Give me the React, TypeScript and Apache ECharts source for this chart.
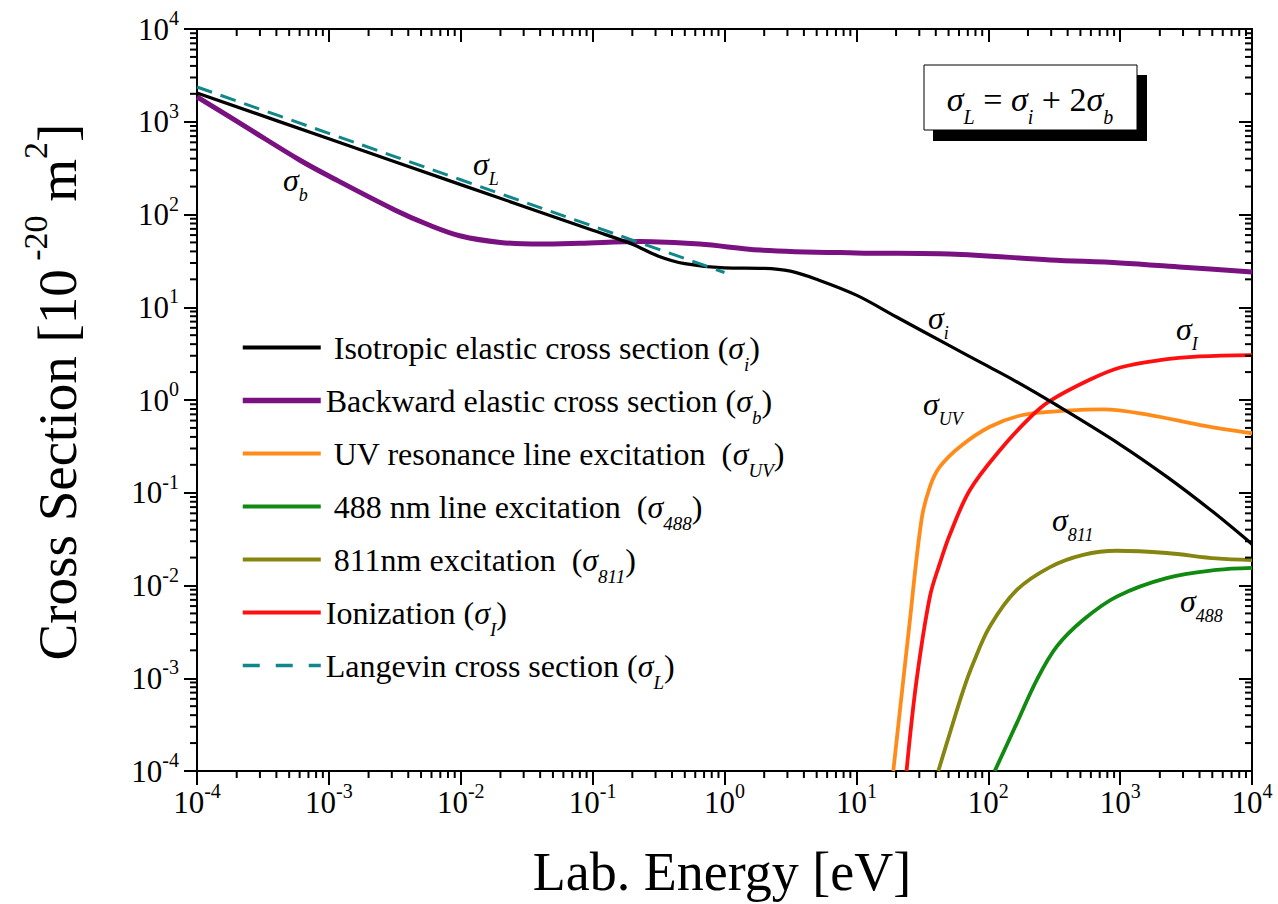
import React, { useEffect, useRef } from "react";
import * as echarts from "echarts";

const SERIF = '"Liberation Serif", "Times New Roman", Times, serif';

// ---- data (energy in eV, cross section in 1e-20 m^2) ----
const isoE = [1e-4, 1e-3, 1e-2, 0.1, 0.2, 0.316, 0.5, 1, 2, 3.16, 5, 10, 20, 50, 100, 158, 316, 1000, 2240, 5000, 10000];
const isoS = [2042, 655, 210, 67.6, 47.9, 35.5, 29.5, 26.6, 26.3, 24.5, 20, 13.5, 7.9, 3.9, 2.3, 1.62, 0.912, 0.331, 0.15, 0.063, 0.0279];

const backE = [1e-4, 2.5e-4, 6e-4, 1e-3, 3.16e-3, 5.75e-3, 1e-2, 2e-2, 4e-2, 8e-2, 0.23, 0.65, 1.86, 10, 51, 295, 1000, 3000, 10000];
const backS = [1860, 832, 387, 260, 112, 77, 58.6, 50, 48, 49, 51.3, 48, 41.4, 38.5, 37.5, 32.4, 30, 27, 24];

const uvE = [19.05, 25.1, 31.2, 36.1, 43.0, 61, 103, 183, 394, 741, 1690, 4050, 10000];
const uvS = [1e-4, 3.5e-3, 0.0513, 0.116, 0.191, 0.314, 0.515, 0.689, 0.767, 0.794, 0.689, 0.537, 0.438];

const e488E = [112, 164, 233, 330, 526, 942, 2250, 5410, 10000];
const e488S = [1e-4, 3.24e-4, 9.55e-4, 2.19e-3, 4.27e-3, 7.59e-3, 0.012, 0.0147, 0.0155];

const e811E = [41.8, 51.2, 64.6, 76.9, 103, 164, 294, 525, 942, 2250, 5370, 10000];
const e811S = [1e-4, 2.57e-4, 7.41e-4, 1.45e-3, 3.63e-3, 8.9e-3, 0.0158, 0.0214, 0.0237, 0.0224, 0.0196, 0.0188];

const ionE = [24.0, 28.6, 36.1, 43.0, 51.2, 72.6, 123, 207, 294, 592, 1000, 2000, 4000, 10000];
const ionS = [1e-4, 9.5e-4, 7.6e-3, 0.0174, 0.0355, 0.107, 0.289, 0.646, 0.977, 1.66, 2.24, 2.69, 2.95, 3.05];

const langE = [1e-4, 1e-3, 1e-2, 0.1, 1];
const langS = [2370, 750, 237, 75, 23.7];

// axis tick structure
const decadeStarts = [1e-4, 1e-3, 1e-2, 1e-1, 1, 10, 100, 1000];
const minorMantissas = [2, 3, 4, 5, 6, 7, 8, 9];

const NAMES = {
  iso: "Isotropic elastic cross section",
  back: "Backward elastic cross section",
  uv: "UV resonance line excitation",
  e488: "488 nm line excitation",
  e811: "811nm excitation",
  ion: "Ionization",
  lang: "Langevin cross section",
};

const LEGEND_TEXT: Record<string, string> = {
  [NAMES.iso]: "{t| Isotropic elastic cross section (}{g|σ}{u|i}{t|)}",
  [NAMES.back]: "{t|Backward elastic cross section (}{g|σ}{u|b}{t|)}",
  [NAMES.uv]: "{t| UV resonance line excitation  (}{g|σ}{u|UV}{t|)}",
  [NAMES.e488]: "{t| 488 nm line excitation  (}{g|σ}{u|488}{t|)}",
  [NAMES.e811]: "{t| 811nm excitation  (}{g|σ}{u|811}{t|)}",
  [NAMES.ion]: "{t|Ionization (}{g|σ}{u|I}{t|)}",
  [NAMES.lang]: "{t|Langevin cross section (}{g|σ}{u|L}{t|)}",
};

function pairs(xs: number[], ys: number[]) {
  return xs.map((x, i) => [x, ys[i]]);
}

export default function App() {
  const ref = useRef<HTMLDivElement>(null);

  useEffect(() => {
    const chart = echarts.init(ref.current!, null, { renderer: "svg" });

    const minorVals: number[] = [];
    decadeStarts.forEach((d) => minorMantissas.forEach((m) => minorVals.push(m * d)));

    const tickLabelRich = {
      b: { fontSize: 31, lineHeight: 30, fontFamily: SERIF, color: "#000" },
      s: { fontSize: 20, lineHeight: 30, padding: [0, 0, 22, 0], fontFamily: SERIF, color: "#000" },
    };
    const fmt = (v: number) => "{b|10}{s|" + Math.round(Math.log10(v)) + "}";

    const baseAxis = {
      type: "log",
      logBase: 10,
      min: 1e-4,
      max: 1e4,
      splitNumber: 8,
      splitLine: { show: false },
      minorTick: { show: false },
      axisLine: { show: true, onZero: false, lineStyle: { color: "#000", width: 2 } },
    };

    const line = (name: string, xs: number[], ys: number[], color: string, width: number, extra: any = {}) => ({
      name,
      type: "line",
      data: pairs(xs, ys),
      showSymbol: false,
      symbol: "none",
      smooth: 0.35,
      lineStyle: { color, width, ...(extra.lineStyle || {}) },
      itemStyle: { color },
      z: extra.z ?? 3,
    });

    const richLabel = {
      g: { fontSize: 32, fontStyle: "italic", fontFamily: SERIF, lineHeight: 36, color: "#000" },
      u: { fontSize: 18, fontStyle: "italic", fontFamily: SERIF, lineHeight: 36, padding: [30, 0, 0, 0], color: "#000" },
    };
    const ann = (x: number, y: number, sub: string) => ({
      type: "text",
      x,
      y,
      z: 50,
      style: {
        text: "{g|σ}{u|" + sub + "}",
        rich: richLabel,
        align: "left",
        textAlign: "left",
        verticalAlign: "middle",
        textVerticalAlign: "middle",
      },
    });

    const option: any = {
      animation: false,
      backgroundColor: "#fff",
      textStyle: { fontFamily: SERIF },
      grid: { left: 197, right: 26, top: 29, bottom: 133, containLabel: false },
      xAxis: [
        {
          ...baseAxis,
          position: "bottom",
          axisTick: { show: true, inside: false, length: 14, lineStyle: { color: "#000", width: 2 } },
          axisLabel: { show: true, margin: 16, interval: 0, formatter: fmt, rich: tickLabelRich, color: "#000" },
        },
        {
          ...baseAxis,
          position: "top",
          axisTick: { show: true, inside: true, length: 13, lineStyle: { color: "#000", width: 2 } },
          axisLabel: { show: false },
        },
      ],
      yAxis: [
        {
          ...baseAxis,
          position: "left",
          axisTick: { show: true, inside: false, length: 13, lineStyle: { color: "#000", width: 2 } },
          axisLabel: { show: true, margin: 18, interval: 0, formatter: fmt, rich: tickLabelRich, color: "#000" },
        },
        {
          ...baseAxis,
          position: "right",
          axisTick: { show: true, inside: true, length: 13, lineStyle: { color: "#000", width: 2 } },
          axisLabel: { show: false },
        },
      ],
      legend: {
        orient: "vertical",
        left: 240,
        top: 321,
        padding: 0,
        itemWidth: 78,
        itemHeight: 53,
        itemGap: 0,
        selectedMode: false,
        itemStyle: { opacity: 0, borderWidth: 0 },
        lineStyle: { width: 4 },
        formatter: (name: string) => LEGEND_TEXT[name] || name,
        textStyle: {
          fontFamily: SERIF,
          color: "#000",
          rich: {
            t: { fontSize: 32, fontFamily: SERIF, lineHeight: 40, color: "#000" },
            g: { fontSize: 32, fontStyle: "italic", fontFamily: SERIF, lineHeight: 40, color: "#000" },
            u: { fontSize: 19, fontStyle: "italic", fontFamily: SERIF, lineHeight: 40, padding: [34, 0, 0, 0], color: "#000" },
          },
        },
        data: [
          { name: NAMES.iso },
          { name: NAMES.back, lineStyle: { width: 5.5 } },
          { name: NAMES.uv },
          { name: NAMES.e488 },
          { name: NAMES.e811 },
          { name: NAMES.ion },
          { name: NAMES.lang, lineStyle: { type: [17, 16], width: 3.5 } },
        ],
      },
      series: [
        line(NAMES.iso, isoE, isoS, "#000000", 3.2, { z: 4 }),
        line(NAMES.back, backE, backS, "#7a1180", 5),
        line(NAMES.uv, uvE, uvS, "#ff8c1a", 3.8),
        line(NAMES.e488, e488E, e488S, "#108a10", 3.8),
        line(NAMES.e811, e811E, e811S, "#858510", 3.8),
        line(NAMES.ion, ionE, ionS, "#ff1010", 3.8),
        line(NAMES.lang, langE, langS, "#10878a", 3, { lineStyle: { type: [16, 9] }, z: 5 }),
        {
          type: "custom",
          silent: true,
          xAxisIndex: 0,
          yAxisIndex: 0,
          data: minorVals.map((v) => [v, 1]),
          renderItem: (_p: any, api: any) => {
            const v = api.value(0);
            const b = api.coord([v, 1e-4]);
            const t = api.coord([v, 1e4]);
            const st = { stroke: "#000", lineWidth: 2 };
            return {
              type: "group",
              children: [
                { type: "line", shape: { x1: b[0], y1: b[1], x2: b[0], y2: b[1] + 7 }, style: st },
                { type: "line", shape: { x1: t[0], y1: t[1], x2: t[0], y2: t[1] + 7 }, style: st },
              ],
            };
          },
          z: 10,
        },
        {
          type: "custom",
          silent: true,
          xAxisIndex: 0,
          yAxisIndex: 0,
          data: minorVals.map((v) => [1, v]),
          renderItem: (_p: any, api: any) => {
            const v = api.value(1);
            const l = api.coord([1e-4, v]);
            const r = api.coord([1e4, v]);
            const st = { stroke: "#000", lineWidth: 2 };
            return {
              type: "group",
              children: [
                { type: "line", shape: { x1: l[0] - 7, y1: l[1], x2: l[0], y2: l[1] }, style: st },
                { type: "line", shape: { x1: r[0] - 7, y1: r[1], x2: r[0], y2: r[1] }, style: st },
              ],
            };
          },
          z: 10,
        },
      ],
      graphic: [
        // equation box with shadow
        { type: "rect", z: 60, shape: { x: 933, y: 75, width: 214, height: 66 }, style: { fill: "#000" } },
        { type: "rect", z: 61, shape: { x: 924, y: 65, width: 213, height: 65 }, style: { fill: "#fff", stroke: "#000", lineWidth: 1 } },
        {
          type: "text",
          x: 1030,
          y: 99,
          z: 62,
          style: {
            text: "{g|σ}{u|L}{t| = }{g|σ}{u|i}{t| + 2}{g|σ}{u|b}",
            align: "center",
            textAlign: "center",
            verticalAlign: "middle",
            textVerticalAlign: "middle",
            rich: {
              t: { fontSize: 34, fontFamily: SERIF, lineHeight: 40, color: "#000" },
              g: { fontSize: 34, fontStyle: "italic", fontFamily: SERIF, lineHeight: 40, color: "#000" },
              u: { fontSize: 20, fontStyle: "italic", fontFamily: SERIF, lineHeight: 40, padding: [36, 0, 0, 0], color: "#000" },
            },
          },
        },
        // curve annotations
        ann(473, 164, "L"),
        ann(283, 180, "b"),
        ann(928, 318, "i"),
        ann(1176, 329, "I"),
        ann(923, 404, "UV"),
        ann(1052, 520, "811"),
        ann(1180, 601, "488"),
        // axis titles
        {
          type: "text",
          x: 722,
          y: 872,
          z: 50,
          style: {
            text: "Lab. Energy [eV]",
            fontSize: 54,
            fontFamily: SERIF,
            fill: "#000",
            align: "center",
            textAlign: "center",
            verticalAlign: "middle",
            textVerticalAlign: "middle",
          },
        },
        {
          type: "text",
          x: 57,
          y: 392,
          rotation: Math.PI / 2,
          z: 50,
          style: {
            text: "{t|Cross Section [10}{p| -20}{t| m}{p|2}{t|]}",
            align: "center",
            textAlign: "center",
            verticalAlign: "middle",
            textVerticalAlign: "middle",
            rich: {
              t: { fontSize: 55, fontFamily: SERIF, lineHeight: 60, color: "#000" },
              p: { fontSize: 34, fontFamily: SERIF, lineHeight: 60, padding: [0, 0, 44, 0], color: "#000" },
            },
          },
        },
      ],
    };

    chart.setOption(option);
    return () => chart.dispose();
  }, []);

  return (
    <div
      ref={ref}
      style={{ position: "fixed", left: 0, top: 0, width: 1278, height: 904, background: "#fff" }}
    />
  );
}
